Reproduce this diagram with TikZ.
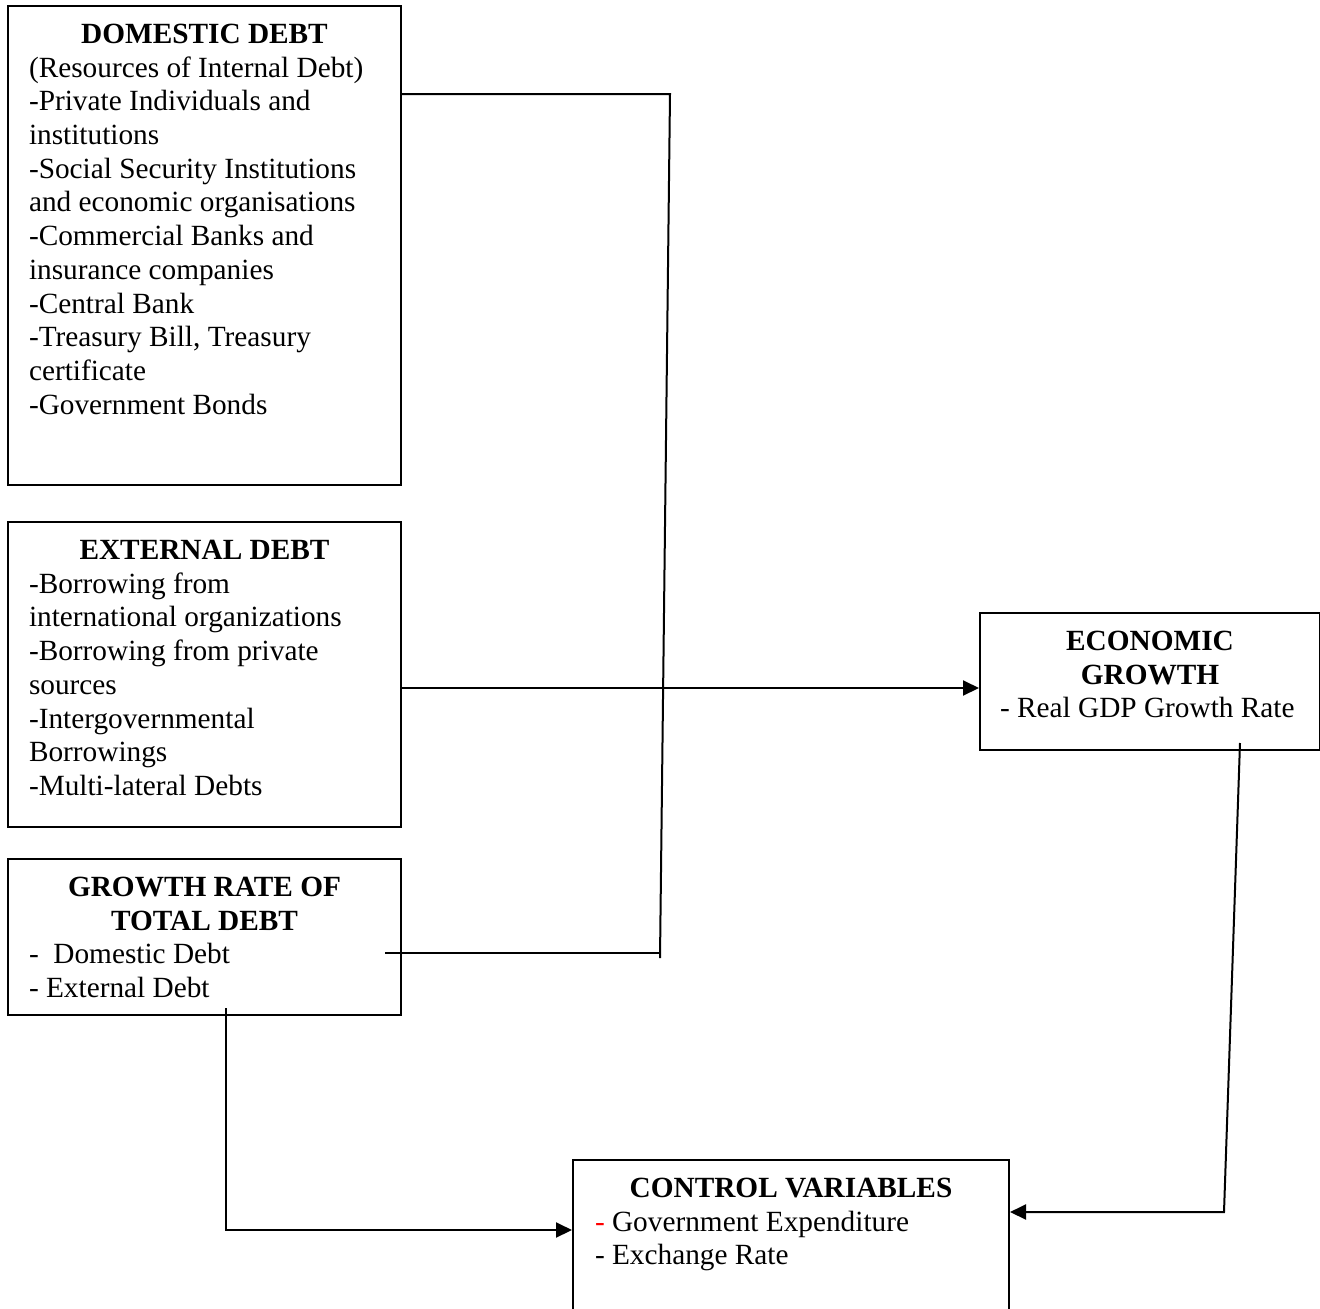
\documentclass[tikz,border=0pt]{standalone}
\usepackage{fontspec}
\setmainfont{Liberation Serif}
\usetikzlibrary{arrows.meta}
\tikzset{
	varbox/.style={draw, line width=2pt, anchor=north west, align=flush left, inner xsep=21pt, inner ysep=15pt, text height=22.5pt, font=\fontsize{29.3}{33.7}\selectfont},
	link/.style={line width=2pt},
	arr/.style={line width=2pt, -{Triangle[length=16pt,width=15pt]}}
}
\newcommand{\boxhead}[1]{{\centering\bfseries #1\par}}

\begin{document}
\begin{tikzpicture}[x=1pt, y=-1pt]
			%%%%% START %%%%%
			\useasboundingbox (0,0) rectangle (1320,1309);
			\clip (0,0) rectangle (1320,1309);
			
			\node[varbox, text width=351pt, text depth=426.5pt] (dom) at (7,5) {\boxhead{DOMESTIC DEBT}(Resources of Internal Debt)\\-Private Individuals and\\institutions\\-Social Security Institutions\\and economic organisations\\-Commercial Banks and\\insurance companies\\-Central Bank\\-Treasury Bill, Treasury\\certificate\\-Government Bonds};
			
			\node[varbox, text width=351pt, text depth=252.5pt] (ext) at (7,521) {\boxhead{EXTERNAL DEBT}-Borrowing from\\international organizations\\-Borrowing from private\\sources\\-Intergovernmental\\Borrowings\\-Multi-lateral Debts};
			
			\node[varbox, text width=351pt, text depth=103.5pt] (gr) at (7,858) {\boxhead{GROWTH RATE OF\\TOTAL DEBT}-\ \ Domestic Debt\\- External Debt};
			
			\node[varbox, inner xsep=20pt, text width=300pt, text depth=84.5pt] (eco) at (979,612) {\boxhead{ECONOMIC\\GROWTH}\mbox{- Real GDP Growth Rate}};
			
			\node[varbox, inner xsep=22pt, text width=392pt, text depth=180pt] (ctrl) at (572,1159) {\boxhead{CONTROL VARIABLES}{\color{red}-} Government Expenditure\\- Exchange Rate};
			
			% debt lines joining
			\coordinate (dtop) at (670,94);
			\coordinate (dbot) at (660,958);
			\coordinate (gstart) at (385,953);
			\draw[link] (dom.north east |- dtop) -- (dtop) -- (dbot);
			\draw[link] (gstart) -- (gstart -| dbot);
			
			\coordinate (eline) at (0,688);
			\draw[arr] (ext.east |- eline) -- (eco.west |- eline);
			
			% to the control variables
			\coordinate (gdown) at (226,1008);
			\coordinate (gcorner) at (226,1230);
			\draw[arr] (gdown) -- (gcorner) -- (ctrl.west |- gcorner);
			
			\coordinate (eup) at (1240,743);
			\coordinate (ecorner) at (1224,1212);
			\draw[arr] (eup) -- (ecorner) -- (ctrl.east |- ecorner);
			%%%%% END %%%%%
\end{tikzpicture}
\end{document}
